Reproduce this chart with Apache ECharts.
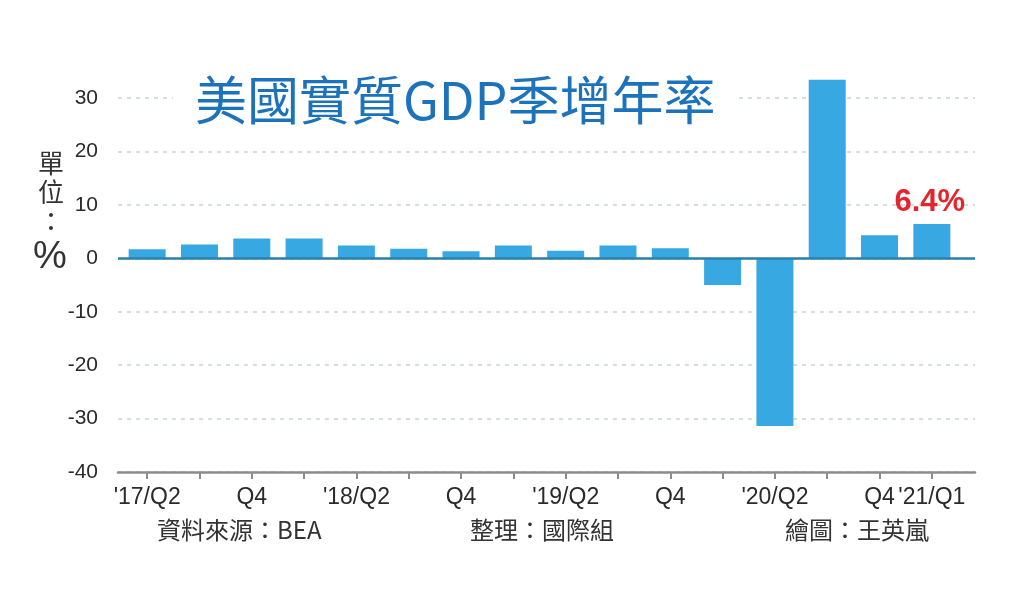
<!DOCTYPE html>
<html>
<head>
<meta charset="utf-8">
<title>美國實質GDP季增年率</title>
<script src="https://cdn.jsdelivr.net/npm/echarts@6/dist/echarts.min.js"></script>
<style>
    html, body { margin: 0; padding: 0; background: #fff; }
    #main { width: 1024px; height: 604px; }
</style>
</head>
<body>
<div id="main"></div>
<script>
// 資料
var quarters = ["'17/Q2", 'Q3', 'Q4', "'18/Q1", "'18/Q2", 'Q3', 'Q4', "'19/Q1",
    "'19/Q2", 'Q3', 'Q4', "'20/Q1", "'20/Q2", 'Q3', 'Q4', "'21/Q1"];
var growthRates = [1.7, 2.6, 3.7, 3.7, 2.4, 1.8, 1.3, 2.4, 1.4, 2.4, 1.9, -5.0, -31.4, 33.4, 4.3, 6.4];
var yTicks = { min: -40, max: 30, step: 10 };
var labelIndex = [0, 2, 4, 6, 8, 10, 12, 14, 15];
var highlightIndex = 15;

var cjk = '"Noto Sans CJK TC", "Noto Sans", sans-serif';
var latin = '"Liberation Sans", "Noto Sans", sans-serif';

var chart = echarts.init(document.getElementById('main'));

// 最後一季加上紅字標籤
var barData = growthRates.map(function (v, i) {
    if (i !== highlightIndex) {
        return v;
    }
    return {
        value: v,
        label: {
            show: true,
            position: 'top',
            distance: 6,
            offset: [-2, 0],
            formatter: function (p) { return p.value + '%'; },
            color: '#e3262e',
            fontSize: 31,
            fontWeight: 'bold',
            fontFamily: latin
        }
    };
});

var option = {
    animation: false,
    title: {
        text: '美國實質GDP季增年率',
        left: 173,
        top: 68,
        padding: [2, 22],
        backgroundColor: '#fff',
        textStyle: {
            color: '#1c72bb',
            fontSize: 52,
            fontWeight: 'normal',
            fontFamily: cjk,
            lineHeight: 60
        }
    },
    grid: [
        // 外框：軸線、格線
        { left: 118, right: 49, top: 98, bottom: 132 },
        // 長條
        { left: 121, right: 66, top: 98, bottom: 132 }
    ],
    xAxis: [
        {
            gridIndex: 0,
            type: 'value',
            min: 0,
            max: 1,
            axisLine: { show: true, onZero: false, lineStyle: { color: '#8c8c8c', width: 2.5 } },
            axisTick: { show: false },
            axisLabel: { show: false },
            splitLine: { show: false }
        },
        {
            gridIndex: 1,
            type: 'category',
            data: quarters,
            axisLine: { show: false, onZero: false },
            axisTick: {
                show: true,
                alignWithLabel: true,
                interval: 0,
                length: 7,
                lineStyle: { color: '#8c8c8c', width: 2 }
            },
            axisLabel: {
                interval: function (i) { return labelIndex.indexOf(i) !== -1; },
                color: '#2a2a2a',
                fontSize: 23,
                fontFamily: latin,
                margin: 14
            }
        }
    ],
    yAxis: [
        {
            gridIndex: 0,
            type: 'value',
            min: yTicks.min,
            max: yTicks.max,
            interval: yTicks.step,
            axisLine: { show: false },
            axisTick: { show: false },
            axisLabel: {
                color: '#2a2a2a',
                fontSize: 21,
                fontFamily: latin,
                margin: 20
            },
            splitLine: {
                lineStyle: { color: '#c9d2da', width: 1.5, type: [4, 5] }
            }
        },
        {
            gridIndex: 1,
            type: 'value',
            min: yTicks.min,
            max: yTicks.max,
            interval: yTicks.step,
            show: false
        }
    ],
    series: [
        {
            // 零軸
            type: 'line',
            xAxisIndex: 0,
            yAxisIndex: 0,
            data: [],
            markLine: {
                silent: true,
                symbol: 'none',
                label: { show: false },
                lineStyle: { color: '#2a7fab', width: 2.5, type: 'solid' },
                data: [{ yAxis: 0 }]
            }
        },
        {
            type: 'bar',
            xAxisIndex: 1,
            yAxisIndex: 1,
            data: barData,
            barWidth: 37,
            clip: false,
            z: 3,
            itemStyle: { color: '#38a8e3' }
        }
    ],
    graphic: [
        { type: 'text', left: 38, top: 150, style: { text: '單', fill: '#333', font: '26px ' + cjk } },
        { type: 'text', left: 38, top: 179, style: { text: '位', fill: '#333', font: '26px ' + cjk } },
        { type: 'text', left: 38, top: 208, style: { text: '：', fill: '#333', font: '26px ' + cjk } },
        { type: 'text', left: 33, top: 239, style: { text: '%', fill: '#333', font: '38px ' + latin } },
        { type: 'text', left: 157, top: 518, style: { text: '資料來源：BEA', fill: '#333', font: '24px ' + cjk } },
        { type: 'text', left: 470, top: 518, style: { text: '整理：國際組', fill: '#333', font: '24px ' + cjk } },
        { type: 'text', left: 785, top: 518, style: { text: '繪圖：王英嵐', fill: '#333', font: '24px ' + cjk } }
    ]
};

chart.setOption(option);
</script>
</body>
</html>
